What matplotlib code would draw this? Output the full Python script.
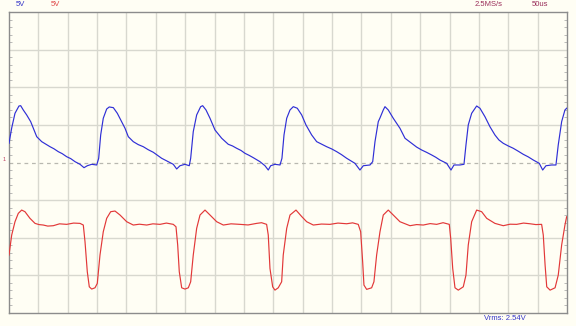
import numpy as np
import matplotlib
matplotlib.use('Agg')
import matplotlib.pyplot as plt
from matplotlib.ticker import MultipleLocator

# channel 1 (blue), time in us, screen volts (5 V/div)
t_ch1 = [0, 4.6, 10.2, 17.0, 19.9, 24.3, 30.1, 36.9, 41.4, 47.2, 55.7, 62.5, 69.8, 76.6, 83.9,
         90.5, 98.2, 105.0, 112.4, 120.9, 127.7, 133.3, 140.8, 149.3, 152.7, 156.1, 160.5,
         166.3, 170.7, 177.6, 184.4, 190.2, 197.5, 203.1, 211.6, 220.0, 228.6, 237.0, 245.6,
         252.5, 259.9, 271.2, 279.7, 285.5, 291.1, 299.6, 306.9, 309.3, 311.5, 313.7, 319.5,
         326.3, 329.7, 335.4, 342.2, 350.7, 362.1, 373.3, 380.5, 387.6, 395.0, 401.8, 408.8,
         415.9, 427.3, 435.8, 441.4, 445.5, 452.8, 461.4, 464.7, 468.2, 472.8, 478.4, 484.0,
         490.8, 498.3, 505.6, 515.3, 523.8, 532.0, 540.8, 549.5, 557.9, 566.0, 574.9, 589.0,
         597.5, 603.2, 614.6, 619.2, 623.1, 628.7, 631.6, 637.2, 640.1, 645.7, 654.2, 665.6,
         674.2, 685.5, 694.0, 702.6, 711.0, 719.6, 726.5, 733.7, 745.1, 752.5, 757.6, 767.8,
         774.6, 778.0, 781.9, 787.7, 796.2, 801.8, 810.3, 818.8, 827.3, 834.0, 841.5, 850.0,
         858.5, 867.0, 875.5, 884.0, 892.6, 902.8, 908.6, 914.2, 923.9, 931.2, 935.1, 940.9,
         946.5, 949.4]
v_ch1 = [2.55, 4.59, 6.54, 7.51, 7.55, 6.98, 6.32, 5.43, 4.55, 3.43, 2.77, 2.45, 2.10, 1.82, 1.44,
         1.18, 0.77, 0.52, 0.11, -0.24, -0.69, -0.43, -0.24, -0.33, 0.56, 3.66, 5.88,
         7.11, 7.38, 7.29, 6.54, 5.65, 4.55, 3.43, 2.77, 2.38, 2.10, 1.70, 1.36,
         0.98, 0.56, 0.11, -0.24, -0.86, -0.43, -0.24, -0.43, 0.56, 2.33, 4.10, 6.32,
         7.42, 7.55, 6.98, 5.88, 4.32, 3.22, 2.42, 2.20, 1.89, 1.60, 1.22, 0.95,
         0.64, 0.11, -0.43, -1.00, -0.43, -0.24, -0.33, 0.56, 3.66, 5.88, 6.98, 7.42,
         7.21, 6.32, 4.99, 3.66, 2.77, 2.45, 2.10, 1.80, 1.44, 1.05, 0.56, -0.11,
         -1.00, -0.43, -0.33, 0.11, 2.77, 5.43, 5.92, 6.98, 7.42, 6.98, 5.88, 4.55,
         3.22, 2.55, 2.05, 1.66, 1.35, 1.00, 0.70, 0.33, -0.11, -1.00, -0.33, -0.33,
         -0.24, 2.33, 4.99, 6.54, 7.51, 7.21, 6.09, 4.76, 3.66, 3.00, 2.55, 2.20,
         1.89, 1.50, 1.09, 0.75, 0.33, -0.11, -1.00, -0.43, -0.33, -0.33, 2.33, 5.43,
         6.98, 7.21]

# channel 2 (red)
t_ch2 = [0, 4.6, 10.2, 15.8, 21.6, 27.2, 35.7, 44.3, 51.0, 58.4, 66.0, 75.4, 86.0, 98.2, 110.0,
         120.9, 126.5, 129.4, 133.3, 136.7, 140.8, 146.4, 150.3, 154.9, 160.5, 166.3, 173.1,
         180.5, 189.0, 200.4, 211.6, 222.0, 234.4, 245.0, 257.1, 268.0, 279.7, 284.3, 287.2,
         289.9, 294.0, 299.6, 305.3, 309.3, 313.7, 319.5, 325.2, 333.7, 342.2, 353.6, 364.9,
         378.0, 393.2, 407.0, 421.6, 430.0, 438.6, 441.4, 444.3, 448.9, 452.8, 458.4, 464.2,
         466.9, 472.8, 478.4, 488.6, 498.3, 506.8, 518.1, 532.0, 546.5, 560.0, 574.9, 585.0,
         594.6, 598.7, 602.1, 604.3, 608.9, 617.4, 621.3, 625.9, 631.6, 637.2, 645.7, 654.2,
         665.6, 682.7, 694.0, 705.3, 717.0, 728.1, 739.0, 749.6, 752.0, 755.4, 759.3, 764.9,
         773.4, 778.0, 781.9, 787.7, 796.2, 804.7, 813.3, 827.3, 841.5, 853.0, 864.3, 876.0,
         886.9, 897.0, 906.8, 909.6, 912.7, 915.5, 921.2, 929.7, 935.1, 940.9, 946.5, 949.4]
v_ch2 = [-12.30, -9.64, -7.87, -6.76, -6.32, -6.54, -7.42, -8.09, -8.25, -8.31, -8.45, -8.40, -8.15, -8.22, -8.05,
         -8.09, -8.31, -10.53, -14.52, -16.52, -16.82, -16.65, -16.07, -12.30, -9.20, -7.42, -6.54,
         -6.45, -6.98, -7.87, -8.31, -8.20, -8.31, -8.15, -8.22, -8.05, -8.22, -8.54, -10.97,
         -14.52, -16.65, -16.82, -16.65, -15.85, -12.30, -8.75, -6.98, -6.32, -6.98, -7.87, -8.31,
         -8.15, -8.22, -8.30, -8.09, -8.00, -8.22, -9.64, -14.07, -16.52, -16.96, -16.65, -15.85,
         -12.30, -8.75, -6.98, -6.32, -7.18, -7.87, -8.31, -8.18, -8.22, -8.05, -8.14, -8.02,
         -8.22, -9.20, -13.19, -16.29, -16.86, -16.65, -15.85, -12.30, -9.20, -6.98, -6.32, -6.98,
         -7.87, -8.40, -8.25, -8.31, -8.12, -8.22, -8.00, -8.22, -10.08, -14.07, -16.65, -16.96,
         -16.52, -14.96, -10.97, -7.87, -6.32, -6.54, -7.42, -8.09, -8.40, -8.20, -8.22, -8.05,
         -8.14, -8.25, -8.22, -9.64, -13.63, -16.52, -16.96, -16.65, -14.96, -10.97, -8.31, -7.21]

bg = '#FFFEF4'
grid_col = '#D8D8CF'

fig = plt.figure(figsize=(5.76, 3.26), dpi=100, facecolor=bg)
ax = fig.add_axes([9 / 576, 1 - 313 / 326, 558 / 576, 301 / 326])
ax.set_facecolor(bg)

ax.set_xlim(0, 950)
ax.set_ylim(-20, 20)
ax.xaxis.set_major_locator(MultipleLocator(50))
ax.yaxis.set_major_locator(MultipleLocator(5))
ax.yaxis.set_minor_locator(MultipleLocator(1))

# graticule, centre line dashed
for x in np.arange(50, 950, 50):
    ax.axvline(x, color=grid_col, lw=1.0, zorder=1)
for y in [-15, -10, -5, 5, 10, 15]:
    ax.axhline(y, color=grid_col, lw=1.0, zorder=1)
ax.axhline(0, color='#B8B8B0', lw=0.9, ls=(0, (3, 3)), zorder=1)

ax.plot(t_ch1, v_ch1, color='#2F2FD6', lw=0.85, zorder=3)
ax.plot(t_ch2, v_ch2, color='#E23838', lw=0.85, zorder=3)

ax.tick_params(axis='both', which='major', length=0, labelleft=False, labelbottom=False)
ax.tick_params(axis='y', which='minor', direction='in', length=2, width=0.5,
               color='#A0A0A0', left=True, right=True)
for s in ax.spines.values():
    s.set_color('#8C8C8C')
    s.set_linewidth(1.0)

font = ['Liberation Sans', 'DejaVu Sans']
fig.text(16 / 576, 1 - 5 / 326, '5V', color='#3535C8', fontsize=5.5, family=font, va='center')
fig.text(51 / 576, 1 - 5 / 326, '5V', color='#E04848', fontsize=5.5, family=font, va='center')
fig.text(475 / 576, 1 - 5 / 326, '2.5MS/s', color='#9A2E5A', fontsize=5.5, family=font, va='center')
fig.text(532 / 576, 1 - 5 / 326, '50us', color='#9A2E5A', fontsize=5.5, family=font, va='center')
fig.text(484 / 576, 1 - 319 / 326, 'Vrms: 2.54V', color='#3535C8', fontsize=5.5, family=font, va='center')
fig.text(3 / 576, 1 - 159 / 326, '1', color='#C04060', fontsize=4, family=font, va='center')

fig.savefig('out.png', dpi=100, facecolor=bg)
